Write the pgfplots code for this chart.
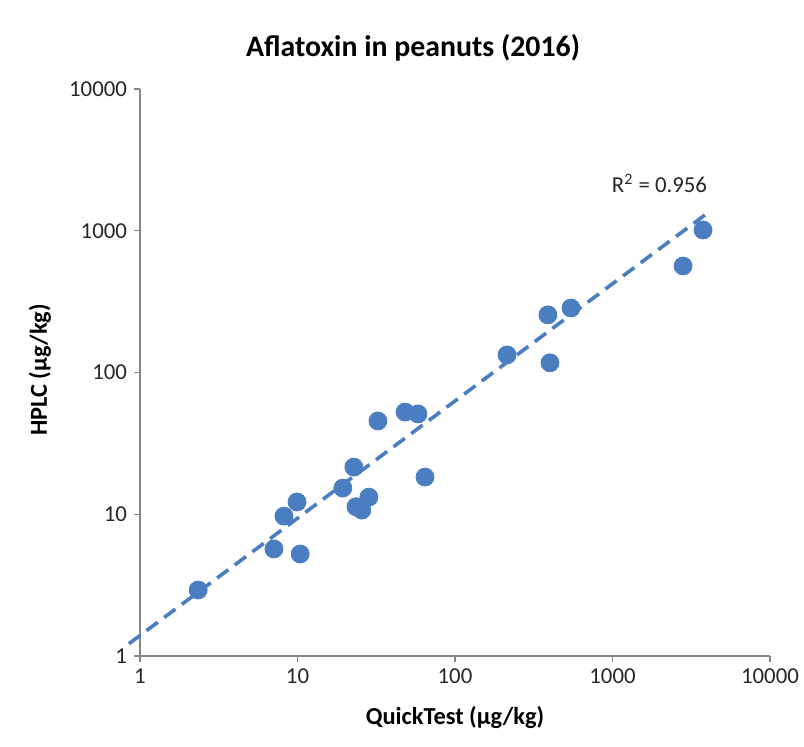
\documentclass[border=0pt]{standalone}
\usepackage{pgfplots}
\pgfplotsset{compat=1.18}
\usepackage{fontspec}
\setmainfont{Carlito}
\definecolor{ptblue}{RGB}{74,126,193}
\definecolor{axgray}{RGB}{134,134,134}
\begin{document}
\begin{tikzpicture}
\useasboundingbox (-70pt,-45.5pt) rectangle (332pt,328pt);
\begin{axis}[
  at={(0pt,0pt)}, anchor=origin,
  xmode=log, ymode=log,
  scale only axis,
  width=315pt, height=283.5pt,
  xmin=1, xmax=10000, ymin=1, ymax=10000,
  axis lines*=left,
  axis line style={axgray, line width=0.6pt},
  xtick={1,10,100,1000,10000}, xticklabels={1,10,100,1000,10000},
  ytick={1,10,100,1000,10000}, yticklabels={1,10,100,1000,10000},
  xminorticks=false, yminorticks=false,
  tick align=outside, major tick length=3pt,
  tick style={axgray, line width=0.6pt},
  ticklabel style={font=\fontsize{11.4}{13}\selectfont, text=black!85},
  clip=false,
]
\addplot[ptblue, line width=1.8pt, dash pattern=on 7pt off 4pt] coordinates {(0.85,1.22) (4220,1390)};
\addplot[only marks, mark=*, mark size=4.5pt, mark options={fill=ptblue, draw=ptblue}] coordinates {
(2.34,2.92) (7.09,5.69) (8.2,9.7) (9.93,12.2) (10.4,5.24) (19.4,15.3) (22.8,21.5) (23.5,11.3) (25.6,10.7) (28.4,13.2) (32.4,45.5) (48.2,52.6) (58.2,51) (64.5,18.3) (214,133) (389,255) (401,117) (545,285) (2805,564) (3756,1012)
};
\node[font=\fontsize{11.4}{13}\selectfont, text=black!85] at (axis cs:1987,2173) {R\textsuperscript{2} = 0.956};
\end{axis}
\node[font=\bfseries\fontsize{14.9}{17}\selectfont] at (136.5pt,304pt) {Aflatoxin in peanuts (2016)};
\node[font=\bfseries\fontsize{12.2}{14}\selectfont] at (157.5pt,-31pt) {QuickTest (µg/kg)};
\node[font=\bfseries\fontsize{12.2}{14}\selectfont, rotate=90] at (-50pt,143pt) {HPLC (µg/kg)};
\end{tikzpicture}
\end{document}
